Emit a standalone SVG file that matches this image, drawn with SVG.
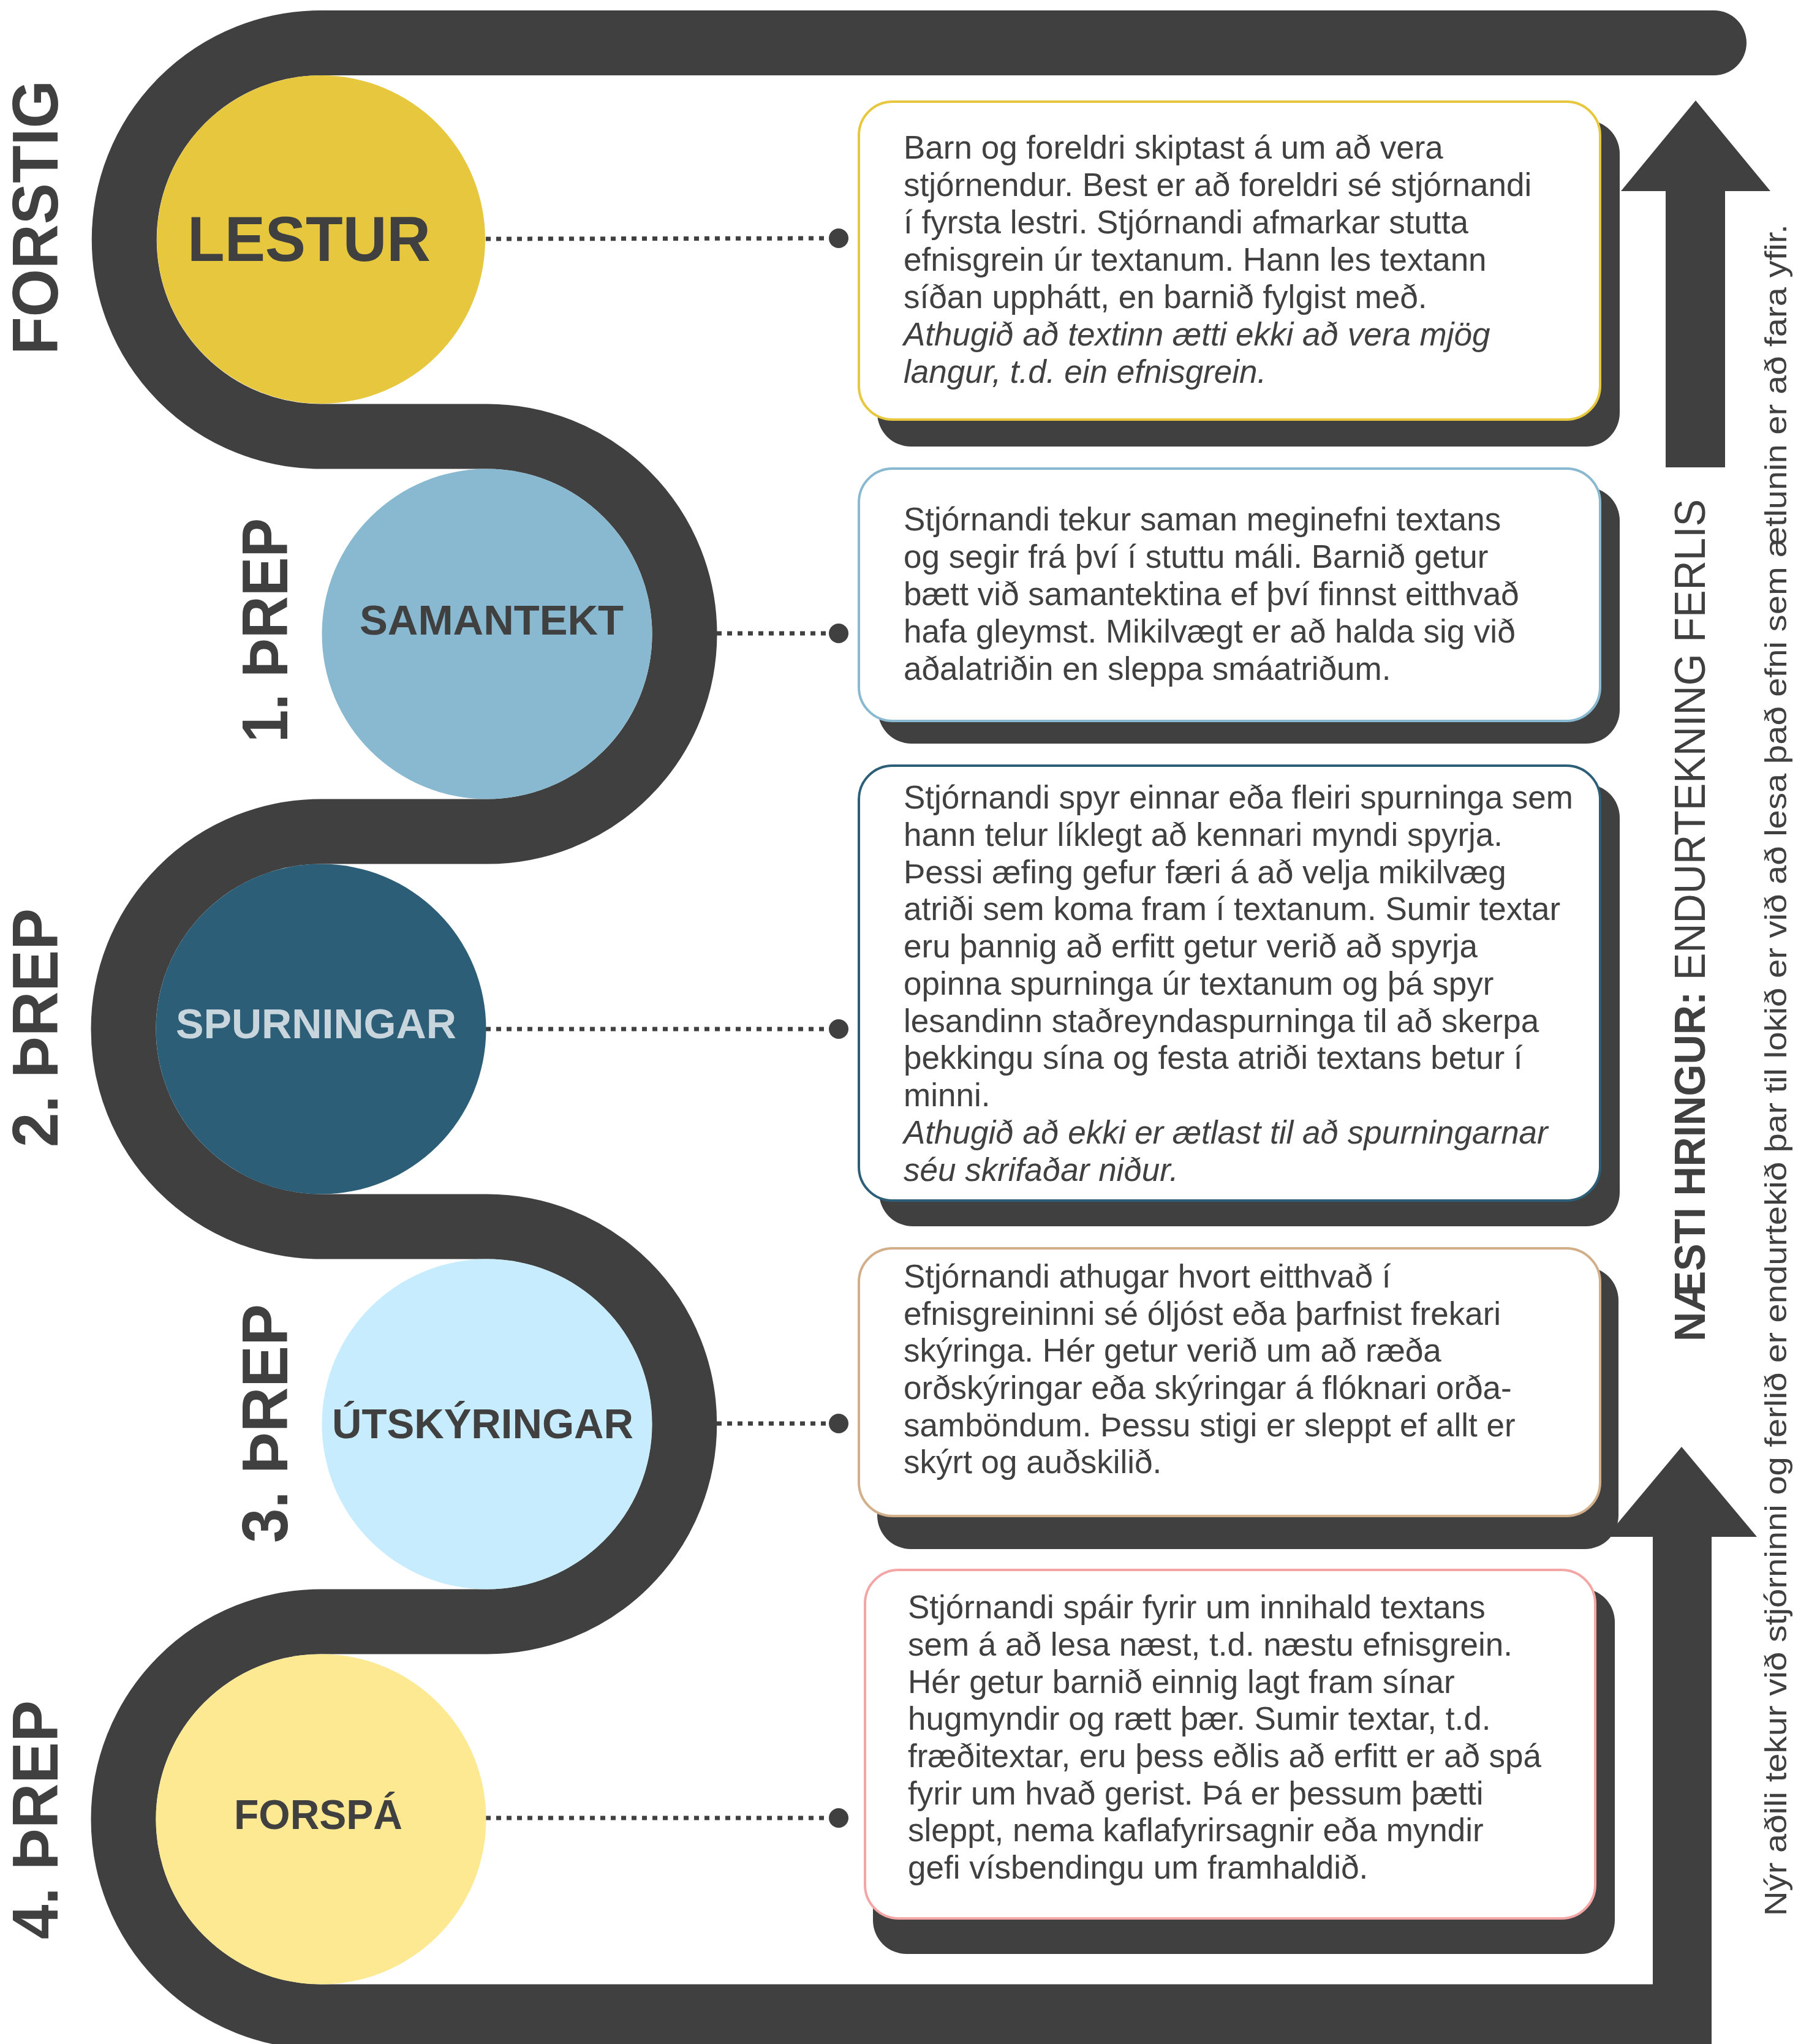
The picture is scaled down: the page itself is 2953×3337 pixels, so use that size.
<svg xmlns="http://www.w3.org/2000/svg" width="2953" height="3337" viewBox="0 0 2953 3337">
<defs>
<style>
.track{fill:none;stroke:#404040;stroke-width:106}
.dark{fill:#404040}
.conn{fill:none;stroke:#404040;stroke-width:7;stroke-dasharray:8 9}
.dot{fill:#404040}
.shadow{fill:#404040}
.card{fill:#ffffff;stroke-width:4}
.body{font-family:"Liberation Sans",Arial,sans-serif;font-size:53px;fill:#404040}
.it{font-style:italic}
.lbl{font-family:"Liberation Sans",Arial,sans-serif;font-weight:700;fill:#404040}
.side{font-family:"Liberation Sans",Arial,sans-serif;font-weight:700;font-size:106px;fill:#404040}
.note{font-family:"Liberation Sans",Arial,sans-serif;fill:#404040}
</style>
</defs>
<rect width="2953" height="3337" fill="#ffffff"/>

<g id="track">
  <path class="dark" d="M524,17 H2798 A53,53 0 0 1 2798,123 H524 Z"/>
  <path class="track" d="M524,70 A321.25,321.25 0 0 0 524,712.5 H795 A322.5,322.5 0 0 1 795,1357.5 H524 A322.5,322.5 0 0 0 524,2002.5 H795 A322.5,322.5 0 0 1 795,2647.5 H524 A322.5,322.5 0 0 0 524,3292.5 H2794"/>
  <rect class="dark" x="2698" y="2505" width="96" height="840"/>
  <polygon class="dark" points="2622,2509 2868,2509 2745,2362"/>
  <rect class="dark" x="2719" y="308" width="97" height="455"/>
  <polygon class="dark" points="2646,312 2890,312 2768,164"/>
</g>

<g id="connectors">
  <line class="conn" x1="793" y1="390" x2="1360" y2="389"/>
  <circle class="dot" cx="1369" cy="389" r="16"/>
  <line class="conn" x1="1170" y1="1034" x2="1360" y2="1034"/>
  <circle class="dot" cx="1369" cy="1034" r="16"/>
  <line class="conn" x1="793" y1="1680" x2="1360" y2="1680"/>
  <circle class="dot" cx="1369" cy="1680" r="16"/>
  <line class="conn" x1="1170" y1="2324" x2="1360" y2="2324"/>
  <circle class="dot" cx="1369" cy="2324" r="16"/>
  <line class="conn" x1="793" y1="2968" x2="1360" y2="2968"/>
  <circle class="dot" cx="1369" cy="2968" r="16"/>
</g>

<g id="node-lestur">
  <circle cx="524" cy="391" r="268" fill="#E7C73D"/>
  <text class="lbl" x="306" y="426" font-size="104" textLength="397" lengthAdjust="spacingAndGlyphs">LESTUR</text>
  <text class="side" transform="translate(94,579) rotate(-90)" textLength="448" lengthAdjust="spacingAndGlyphs">FORSTIG</text>
  <rect class="shadow" x="1432" y="196" width="1212" height="533" rx="55"/>
  <rect class="card" x="1402" y="166" width="1210" height="519" rx="55" stroke="#E7C73D"/>
  <text class="body">
    <tspan x="1475" y="259">Barn og foreldri skiptast á um að vera</tspan>
    <tspan x="1475" y="320">stjórnendur. Best er að foreldri sé stjórnandi</tspan>
    <tspan x="1475" y="381">í fyrsta lestri. Stjórnandi afmarkar stutta</tspan>
    <tspan x="1475" y="442">efnisgrein úr textanum. Hann les textann</tspan>
    <tspan x="1475" y="503">síðan upphátt, en barnið fylgist með.</tspan>
    <tspan class="it" x="1475" y="564">Athugið að textinn ætti ekki að vera mjög</tspan>
    <tspan class="it" x="1475" y="625">langur, t.d. ein efnisgrein.</tspan>
  </text>
</g>

<g id="node-samantekt">
  <circle cx="795" cy="1035" r="269.5" fill="#88B9D0"/>
  <text class="lbl" x="587" y="1036" font-size="68" textLength="431" lengthAdjust="spacingAndGlyphs">SAMANTEKT</text>
  <text class="side" transform="translate(469,1212) rotate(-90)" textLength="366" lengthAdjust="spacingAndGlyphs">1. ÞREP</text>
  <rect class="shadow" x="1433" y="795" width="1211" height="419" rx="55"/>
  <rect class="card" x="1402" y="765" width="1210" height="412" rx="55" stroke="#88B9D0"/>
  <text class="body">
    <tspan x="1475" y="866">Stjórnandi tekur saman meginefni textans</tspan>
    <tspan x="1475" y="927">og segir frá því í stuttu máli. Barnið getur</tspan>
    <tspan x="1475" y="988">bætt við samantektina ef því finnst eitthvað</tspan>
    <tspan x="1475" y="1049">hafa gleymst. Mikilvægt er að halda sig við</tspan>
    <tspan x="1475" y="1110">aðalatriðin en sleppa smáatriðum.</tspan>
  </text>
</g>

<g id="node-spurningar">
  <circle cx="524" cy="1680" r="269.5" fill="#2C5F77"/>
  <text class="lbl" x="287" y="1695" font-size="68" textLength="458" lengthAdjust="spacingAndGlyphs" style="fill:#C9D5DC">SPURNINGAR</text>
  <text class="side" transform="translate(94,1873) rotate(-90)" textLength="390" lengthAdjust="spacingAndGlyphs">2. ÞREP</text>
  <rect class="shadow" x="1435" y="1280" width="1209" height="722" rx="55"/>
  <rect class="card" x="1402" y="1250" width="1210" height="710" rx="55" stroke="#2C5F77"/>
  <text class="body">
    <tspan x="1475" y="1320">Stjórnandi spyr einnar eða fleiri spurninga sem</tspan>
    <tspan x="1475" y="1381">hann telur líklegt að kennari myndi spyrja.</tspan>
    <tspan x="1475" y="1442">Þessi æfing gefur færi á að velja mikilvæg</tspan>
    <tspan x="1475" y="1502">atriði sem koma fram í textanum. Sumir textar</tspan>
    <tspan x="1475" y="1563">eru þannig að erfitt getur verið að spyrja</tspan>
    <tspan x="1475" y="1624">opinna spurninga úr textanum og þá spyr</tspan>
    <tspan x="1475" y="1685">lesandinn staðreyndaspurninga til að skerpa</tspan>
    <tspan x="1475" y="1745">þekkingu sína og festa atriði textans betur í</tspan>
    <tspan x="1475" y="1806">minni.</tspan>
    <tspan class="it" x="1475" y="1867">Athugið að ekki er ætlast til að spurningarnar</tspan>
    <tspan class="it" x="1475" y="1928">séu skrifaðar niður.</tspan>
  </text>
</g>

<g id="node-utskyringar">
  <circle cx="795" cy="2325" r="269.5" fill="#C6ECFD"/>
  <text class="lbl" x="542" y="2348" font-size="68" textLength="492" lengthAdjust="spacingAndGlyphs">ÚTSKÝRINGAR</text>
  <text class="side" transform="translate(469,2519) rotate(-90)" textLength="390" lengthAdjust="spacingAndGlyphs">3. ÞREP</text>
  <rect class="shadow" x="1432" y="2068" width="1210" height="461" rx="55"/>
  <rect class="card" x="1402" y="2038" width="1210" height="437" rx="55" stroke="#D2AE89"/>
  <text class="body">
    <tspan x="1475" y="2102">Stjórnandi athugar hvort eitthvað í</tspan>
    <tspan x="1475" y="2163">efnisgreininni sé óljóst eða þarfnist frekari</tspan>
    <tspan x="1475" y="2223">skýringa. Hér getur verið um að ræða</tspan>
    <tspan x="1475" y="2284">orðskýringar eða skýringar á flóknari orða-</tspan>
    <tspan x="1475" y="2345">samböndum. Þessu stigi er sleppt ef allt er</tspan>
    <tspan x="1475" y="2405">skýrt og auðskilið.</tspan>
  </text>
</g>

<g id="node-forspa">
  <circle cx="524" cy="2970" r="269.5" fill="#FDE992"/>
  <text class="lbl" x="382" y="2986" font-size="68" textLength="275" lengthAdjust="spacingAndGlyphs">FORSPÁ</text>
  <text class="side" transform="translate(94,3166) rotate(-90)" textLength="390" lengthAdjust="spacingAndGlyphs">4. ÞREP</text>
  <rect class="shadow" x="1425" y="2593" width="1211" height="597" rx="55"/>
  <rect class="card" x="1412" y="2563" width="1192" height="569" rx="55" stroke="#F4A5A5"/>
  <text class="body">
    <tspan x="1482" y="2642">Stjórnandi spáir fyrir um innihald textans</tspan>
    <tspan x="1482" y="2703">sem á að lesa næst, t.d. næstu efnisgrein.</tspan>
    <tspan x="1482" y="2764">Hér getur barnið einnig lagt fram sínar</tspan>
    <tspan x="1482" y="2824">hugmyndir og rætt þær. Sumir textar, t.d.</tspan>
    <tspan x="1482" y="2885">fræðitextar, eru þess eðlis að erfitt er að spá</tspan>
    <tspan x="1482" y="2946">fyrir um hvað gerist. Þá er þessum þætti</tspan>
    <tspan x="1482" y="3006">sleppt, nema kaflafyrirsagnir eða myndir</tspan>
    <tspan x="1482" y="3067">gefi vísbendingu um framhaldið.</tspan>
  </text>
</g>

<g id="next-cycle">
  <text class="note" transform="translate(2783,2190) rotate(-90)" font-size="70" textLength="1375" lengthAdjust="spacingAndGlyphs"><tspan font-weight="700">NÆSTI HRINGUR:</tspan><tspan> ENDURTEKNING FERLIS</tspan></text>
  <text class="note" transform="translate(2916,3128) rotate(-90)" font-size="50" textLength="2762" lengthAdjust="spacingAndGlyphs">Nýr aðili tekur við stjórninni og ferlið er endurtekið þar til lokið er við að lesa það efni sem ætlunin er að fara yfir.</text>
</g>
</svg>
